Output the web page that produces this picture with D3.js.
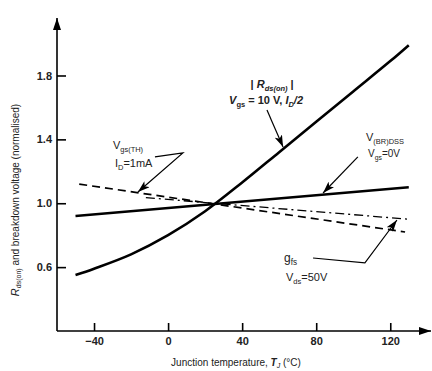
<!DOCTYPE html>
<html>
<head>
<meta charset="utf-8">
<script src="https://cdn.jsdelivr.net/npm/d3@7"></script>
<style>
  body { margin: 0; background: #fff; }
  svg { font-family: "Liberation Sans", Arial, sans-serif; }
</style>
</head>
<body>
<div id="chart"></div>
<script>
// data (temperature in degC, value normalised)
const xTicks = [-40, 0, 40, 80, 120];
const yTicks = [0.6, 1.0, 1.4, 1.8];

const rdsTemp = [-50, -40, -20, 0, 20, 40, 60, 80, 100, 120, 130];
const rdsOn   = [0.55, 0.59, 0.68, 0.80, 0.95, 1.13, 1.32, 1.51, 1.70, 1.89, 1.99];

const vbrTemp = [-50, 130];
const vbrDss  = [0.92, 1.10];

const vgsTemp = [-48, 128];
const vgsTh   = [1.12, 0.82];

const gfsTemp = [-12, 130];
const gfs     = [1.035, 0.90];

const width = 432, height = 371;

const svg = d3.select('#chart')
  .append('svg')
    .attr('width', width)
    .attr('height', height);

// scales
const x = d3.scaleLinear().domain([-60, 142]).range([57, 431]);
const y = d3.scaleLinear().domain([0.2, 2.16]).range([331, 18]);

// arrow heads
const defs = svg.append('defs');
defs.append('marker')
  .attr('id', 'head')
  .attr('viewBox', '0 0 12 8')
  .attr('refX', 12).attr('refY', 4)
  .attr('markerUnits', 'userSpaceOnUse')
  .attr('markerWidth', 12).attr('markerHeight', 8)
  .attr('orient', 'auto')
  .append('path')
    .attr('d', 'M0,0 L12,4 L0,8 L3,4 Z')
    .attr('fill', '#000');
defs.append('marker')
  .attr('id', 'axhead')
  .attr('viewBox', '0 0 12 8')
  .attr('refX', 12).attr('refY', 4)
  .attr('markerUnits', 'userSpaceOnUse')
  .attr('markerWidth', 12).attr('markerHeight', 8)
  .attr('orient', 'auto')
  .append('path')
    .attr('d', 'M0,0 L12,4 L0,8 Z')
    .attr('fill', '#000');

// X axis
const xAxis = svg.append('g')
  .attr('transform', 'translate(0,' + y(0.2) + ')')
  .call(d3.axisBottom(x).tickValues(xTicks).tickSize(-8).tickPadding(6)
    .tickFormat(d => d < 0 ? '\u2212' + Math.abs(d) : d));
xAxis.select('.domain').remove();
xAxis.selectAll('.tick line').attr('stroke-width', 1.6);
xAxis.selectAll('.tick text')
  .attr('font-size', 11).attr('font-weight', 'bold').attr('fill', '#222')
  .attr('font-family', '"Liberation Sans", Arial, sans-serif');
svg.append('line')
  .attr('x1', x(-60)).attr('x2', x(142))
  .attr('y1', y(0.2)).attr('y2', y(0.2))
  .attr('stroke', '#000').attr('stroke-width', 1.6)
  .attr('marker-end', 'url(#axhead)');

// Y axis
const yAxis = svg.append('g')
  .attr('transform', 'translate(' + x(-60) + ',0)')
  .call(d3.axisLeft(y).tickValues(yTicks).tickSize(-9).tickPadding(5)
    .tickFormat(d3.format('.1f')));
yAxis.select('.domain').remove();
yAxis.selectAll('.tick line').attr('stroke-width', 1.6);
yAxis.selectAll('.tick text')
  .attr('font-size', 11).attr('font-weight', 'bold').attr('fill', '#222')
  .attr('font-family', '"Liberation Sans", Arial, sans-serif');
svg.append('line')
  .attr('x1', x(-60)).attr('x2', x(-60))
  .attr('y1', y(0.2)).attr('y2', y(2.16))
  .attr('stroke', '#000').attr('stroke-width', 1.6)
  .attr('marker-end', 'url(#axhead)');

// axis titles
const xt = svg.append('text')
  .attr('x', 236).attr('y', 366)
  .attr('text-anchor', 'middle')
  .attr('font-size', 10).attr('fill', '#222');
xt.append('tspan').text('Junction temperature, ');
xt.append('tspan').attr('font-style', 'italic').attr('font-weight', 'bold').text('T');
xt.append('tspan').attr('font-style', 'italic').attr('font-size', 7).attr('dy', 2).text('J');
xt.append('tspan').attr('dy', -2).text(' (\u00b0C)');

const yt = svg.append('text')
  .attr('transform', 'translate(19,200) rotate(-90)')
  .attr('text-anchor', 'middle')
  .attr('font-size', 10).attr('fill', '#222');
yt.append('tspan').attr('font-style', 'italic').attr('font-size', 11).text('R');
yt.append('tspan').attr('font-size', 7).attr('dy', 2).text('ds(on)');
yt.append('tspan').attr('dy', -2).text(' and breakdown voltage (normalised)');

// curves
const line = d3.line()
  .x(d => x(d[0]))
  .y(d => y(d[1]))
  .curve(d3.curveCatmullRom);

const series = [
  { t: rdsTemp, v: rdsOn, w: 2.6, dash: null },
  { t: vbrTemp, v: vbrDss, w: 2.4, dash: null },
  { t: vgsTemp, v: vgsTh, w: 1.7, dash: '8,5' },
  { t: gfsTemp, v: gfs, w: 1.3, dash: '9,4,2,4' }
];

svg.selectAll('path.curve')
  .data(series)
  .enter()
  .append('path')
    .attr('class', 'curve')
    .attr('d', s => line(d3.zip(s.t, s.v)))
    .attr('fill', 'none')
    .attr('stroke', '#000')
    .attr('stroke-width', s => s.w)
    .attr('stroke-dasharray', s => s.dash);

// annotation leader lines, points given as [temp, value]
const leaders = [
  [[53.4, 1.584], [62.1, 1.352]],
  [[102.5, 1.29], [83.7, 1.064]],
  [[-7.1, 1.29], [8.0, 1.315], [-16.3, 1.07]],
  [[78.3, 0.657], [106.3, 0.626], [123.6, 0.895]]
];
const straight = d3.line().x(d => x(d[0])).y(d => y(d[1]));
svg.selectAll('path.leader')
  .data(leaders)
  .enter()
  .append('path')
    .attr('class', 'leader')
    .attr('d', straight)
    .attr('fill', 'none')
    .attr('stroke', '#000')
    .attr('stroke-width', 1.2)
    .attr('marker-end', 'url(#head)');

// labels: a helper that writes a main letter with subscript
function label(t, v, parts, size, anchor) {
  const el = svg.append('text')
    .attr('x', x(t)).attr('y', y(v))
    .attr('font-size', size)
    .attr('text-anchor', anchor || 'start')
    .attr('fill', '#222');
  let shifted = false;
  parts.forEach(p => {
    const ts = el.append('tspan').text(p.s);
    if (p.sub && !shifted) { ts.attr('dy', 3).attr('font-size', size * 0.68); shifted = true; }
    else if (p.sub) { ts.attr('font-size', size * 0.68); }
    else if (shifted) { ts.attr('dy', -3); shifted = false; }
    if (p.i) ts.attr('font-style', 'italic');
    if (p.b) ts.attr('font-weight', 'bold');
  });
  return el;
}

// R_ds(on)
label(56.2, 1.722, [
  { s: '| ', b: true }, { s: 'R', i: true, b: true }, { s: 'ds(on)', sub: true, i: true, b: true }, { s: ' |', b: true }
], 11, 'middle');
label(52.9, 1.622, [
  { s: 'V', i: true, b: true }, { s: 'gs', sub: true, b: true }, { s: ' = 10 V, ', b: true },
  { s: 'I', i: true, b: true }, { s: 'D', sub: true, i: true, b: true }, { s: '/2', i: true, b: true }
], 11, 'middle');

// V_(BR)DSS
label(106.9, 1.39, [{ s: 'V' }, { s: '(BR)DSS', sub: true }], 11);
label(108, 1.29, [{ s: 'V' }, { s: 'gs', sub: true }, { s: '=0V' }], 10);

// V_gs(TH)
label(-29.8, 1.34, [{ s: 'V' }, { s: 'gs(TH)', sub: true }], 11);
label(-28.7, 1.227, [{ s: 'I' }, { s: 'D', sub: true }, { s: '=1mA' }], 11);

// g_fs
label(62.6, 0.632, [{ s: 'g' }, { s: 'fs', sub: true }], 12);
label(63.7, 0.513, [{ s: 'V' }, { s: 'ds', sub: true }, { s: '=50V' }], 11);
</script>
</body>
</html>
